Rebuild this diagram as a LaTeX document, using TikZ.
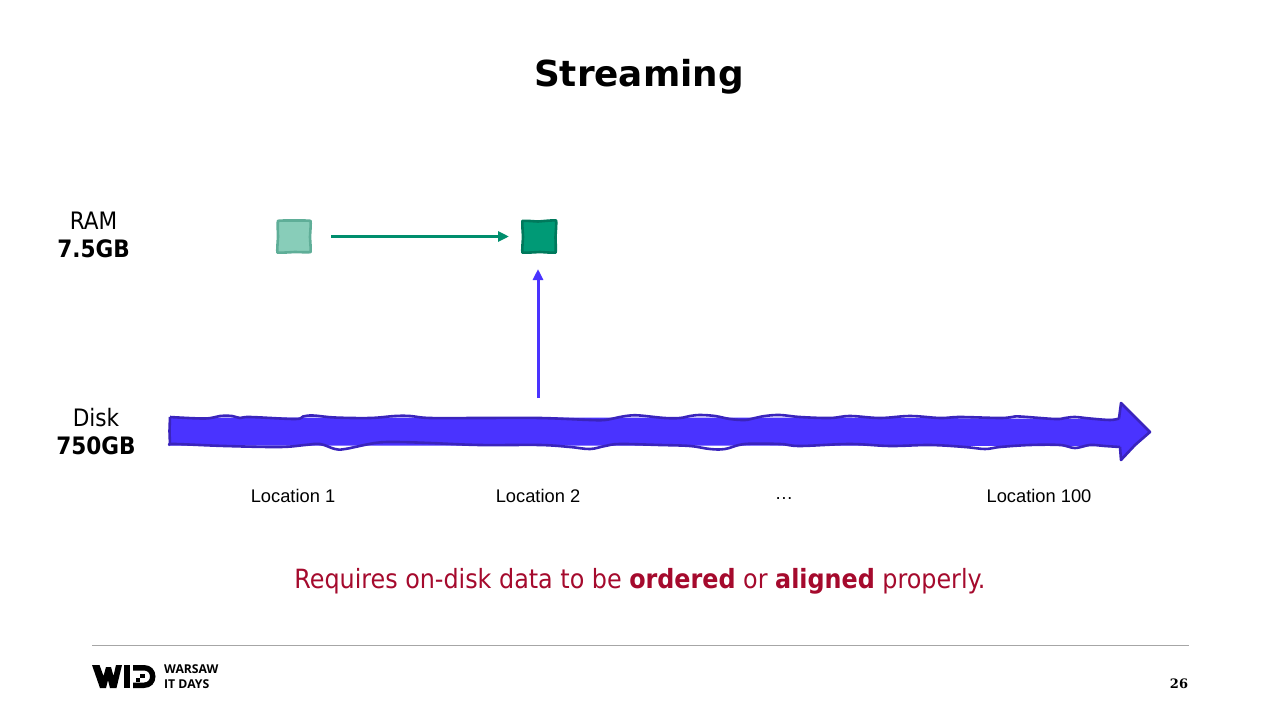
\documentclass[tikz,border=0pt]{standalone}
\usepackage{fontspec}
\setmainfont{Liberation Sans}
\newfontfamily\titlefont{DejaVu Sans}
\newfontfamily\tahomafont{DejaVu Sans Condensed}
\newfontfamily\logofont{Open Sans}
\newfontfamily\numfont{DejaVu Serif}
\usetikzlibrary{arrows.meta}
\definecolor{blueF}{HTML}{4A33FF}
\definecolor{blueD}{HTML}{3A24BC}
\definecolor{greenF}{HTML}{009A76}
\definecolor{greenD}{HTML}{00795C}
\definecolor{greenL}{HTML}{88CDB9}
\definecolor{greenM}{HTML}{5FAE98}
\definecolor{redT}{HTML}{A50A2D}
\tikzset{
  x=1pt,y=-1pt,
  sidelabel/.style={font=\tahomafont\fontsize{24}{28}\selectfont,align=center,text=black,inner sep=0},
  loclabel/.style={font=\fontsize{18.3}{22}\selectfont,text=black,inner sep=0},
  box/.style={minimum size=33,inner sep=0},
  flow/.style={-{Triangle[length=11,width=10]},line width=3},
  waveline/.style={draw=blueD,line width=2.6,line join=round,rounded corners=0}
}
\begin{document}
\begin{tikzpicture}
\useasboundingbox (0,0) rectangle (1280,720);
\node[font=\titlefont\bfseries\fontsize{35.8}{44}\selectfont,inner sep=0] (title) at (639,77) {Streaming};
\node[sidelabel] (ram) at (93.5,235) {RAM\\\textbf{7.5GB}};
\node[sidelabel] (disk) at (96,431.5) {Disk\\\textbf{750GB}};
% squares
\node[box] (sqa) at (294,236.5) {};
\node[box] (sqb) at (539,236.5) {};
\filldraw[draw=greenM,fill=greenL,line width=2.6,line join=round]
  plot[smooth cycle,tension=0.15] coordinates {(278,221)(294,220.5)(310.5,221)(310,237)(310.5,252)(295,252)(277.5,252.5)(278,237)};
\filldraw[draw=greenD,fill=greenF,line width=2.6,line join=round]
  plot[smooth cycle,tension=0.15] coordinates {(522.5,221)(538,221.5)(556,220.5)(555.5,237)(555.5,252.5)(540,252)(522.5,252.5)(523,237)};
% arrows
\coordinate (ga) at (331,236.5);
\coordinate (gb) at (509,236.5);
\draw[flow,draw=greenF!92!black] (ga) -- (gb);
\coordinate (ba) at (538,398);
\coordinate (bb) at (538,269);
\draw[flow,draw=blueF] (ba) -- (bb);
% disk arrow: smooth fill with wavy outline over it
\fill[blueF] (170,417.5) -- (800,417.5) -- (1118,419) -- (1121,403) -- (1150,432) -- (1121,460) -- (1120,446) -- (800,445.5) -- (170,445.5) -- cycle;
\draw[waveline] plot[smooth,tension=0.6] coordinates {
 (170,417)(205,418.5)(220,416)(232,416)(240,418)(250,417)(295,419)(303,416.5)(313,415.5)(335,417.5)(370,418)(395,416)(410,416)(430,418)(480,418)(540,418)(590,420)(605,420)(620,417)(630,415.5)(640,415.5)(665,418)(680,418)(690,416)(700,415)(715,416)(730,419)(745,420)(755,418)(765,416)(780,415)(800,417)(830,418)(850,416)(880,418)(910,416)(940,418)(960,417)(1000,418)(1012,417)(1020,416.5)(1055,419)(1065,418)(1075,417)(1090,418.5)(1110,420)(1119,418.5)};
\draw[waveline] (1119,418.5) -- (1121,403) -- (1135,417) -- (1150,432) -- (1135,445) -- (1121,460) -- (1120,447);
\draw[waveline] plot[smooth,tension=0.6] coordinates {
 (1120,447)(1105,446)(1090,445)(1075,448)(1060,445)(1030,445)(1000,447)(985,449)(965,447)(930,445)(890,446)(850,444)(800,446)(780,444)(745,444)(725,449)(710,449)(690,446)(660,445)(620,444)(605,446)(590,449)(570,447)(540,445)(480,445)(430,443)(395,442)(375,443)(345,449)(335,449)(320,444)(305,445)(280,447)(225,446)(175,444)(170,445)};
\draw[waveline] (170,445) -- (169.5,431) -- (170,417);
% location labels
\node[loclabel] (l1) at (293,496) {Location 1};
\node[loclabel] (l2) at (538,496) {Location 2};
\node[loclabel] (l3) at (784,499) {…};
\node[loclabel] (l4) at (1039,496) {Location 100};
\node[font=\tahomafont\fontsize{26.5}{32}\selectfont,text=redT,inner sep=0] (req) at (640,581) {Requires on-disk data to be \textbf{ordered} or \textbf{aligned} properly.};
% footer
\coordinate (fa) at (92,645.5);
\coordinate (fb) at (1189,645.5);
\draw[black!35,line width=1] (fa) -- (fb);
\fill[black] (92,665) -- (99.5,665) -- (103.5,676) -- (106,667) -- (111,667) -- (113.5,676) -- (116,665) -- (122,665) -- (116.5,688) -- (110,688) -- (108,680) -- (106,688) -- (100,688) -- cycle;
\fill[black] (124,665) rectangle (130,688);
\fill[black] (133,665) -- (144,665) .. controls (151,665) and (155.5,670) .. (155.5,676.5) .. controls (155.5,683) and (151,688) .. (144,688) -- (133,688) -- (133,682.5) -- (144,682.5) .. controls (147.5,682.5) and (150,680) .. (150,676.5) .. controls (150,673) and (147.5,670.5) .. (144,670.5) -- (133,670.5) -- cycle;
\fill[black] (140,673.5) rectangle (145,678);
\fill[black] (136,678) rectangle (140,682);
\node[font=\logofont\bfseries\fontsize{12.2}{15}\selectfont,align=left,anchor=west,inner sep=0] (logo) at (164,677) {WARSAW\\IT DAYS};
\node[font=\numfont\bfseries\fontsize{13}{16}\selectfont,inner sep=0] (pg) at (1179,684) {26};
\end{tikzpicture}
\end{document}
